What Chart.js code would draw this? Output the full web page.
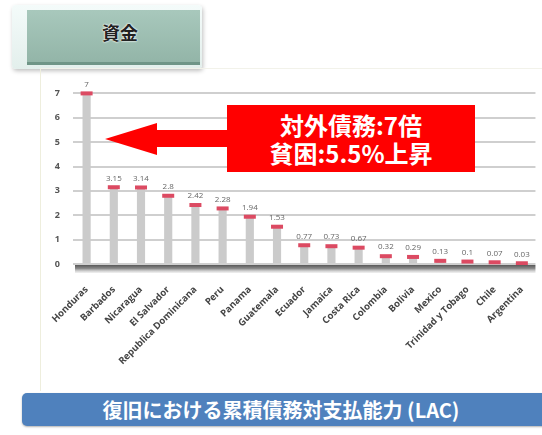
<!DOCTYPE html>
<html>
<head>
<meta charset="utf-8">
<script src="https://cdn.jsdelivr.net/npm/chart.js@4.4.1/dist/chart.umd.min.js"></script>
<style>
  body { margin: 0; width: 542px; height: 435px; background: #fff; position: relative; overflow: hidden;
         font-family: "Noto Sans CJK JP", "Noto Sans", sans-serif; }
  #frame { position: absolute; left: 40px; top: 68px; width: 502px; height: 322px;
           border-left: 1px solid #eeeedd; border-top: 1px solid #f2f2ea; }
  #wrap { position: absolute; left: 40px; top: 75px; width: 502px; height: 310px; }
  #btnOuter { position: absolute; left: 12px; top: 5px; width: 190px; height: 64px;
              background: linear-gradient(#f4fbfa, #e3efec); border-radius: 4px;
              box-shadow: 1px 2px 4px rgba(0,0,0,0.25); }
  #btnFace { position: absolute; left: 27px; top: 10px; width: 173px; height: 52px;
             background: linear-gradient(#a8c8bc, #93b5a8); border-bottom: 3px solid #6f9587; }
  #btnFace span { position: absolute; left: 93px; top: 22px; transform: translate(-50%, -50%);
                  font-size: 18px; font-weight: bold; color: #222; white-space: nowrap;
                  text-shadow: 0 0 2px #fff, 0 0 2px #fff; }
  #callout { position: absolute; left: 227px; top: 105px; width: 248px; height: 67px; background: #ff0000;
             color: #fff; font-weight: bold; font-size: 24px; line-height: 28px; text-align: center;
             display: flex; flex-direction: column; justify-content: center; }
  #arrow { position: absolute; left: 104px; top: 122px; }
  #banner { position: absolute; left: 22px; top: 393px; width: 530px; height: 33px; background: #4f81bd;
            border-radius: 5px; color: #fff; font-weight: bold; font-size: 20px; line-height: 33px;
            box-shadow: 0 1px 2px rgba(0,0,0,0.3); }
  #banner span { position: absolute; left: 0; width: 518px; text-align: center; white-space: nowrap; }
</style>
</head>
<body>
<div id="btnOuter"></div>
<div id="btnFace"><span>資金</span></div>
<div id="frame"></div>
<div id="wrap"><canvas id="chart" width="502" height="310"></canvas></div>
<svg id="arrow" width="125" height="36">
  <polygon points="1,17 53,1 53,8 125,8 125,25 53,25 53,33" fill="#ff0000"/>
</svg>
<div id="callout"><div>対外債務:7倍</div><div>貧困:5.5%上昇</div></div>
<div id="banner"><span>復旧における累積債務対支払能力 (LAC)</span></div>
<script>
const countries = ["Honduras", "Barbados", "Nicaragua", "El Salvador", "Republica Dominicana", "Peru",
  "Panama", "Guatemala", "Ecuador", "Jamaica", "Costa Rica", "Colombia", "Bolivia", "Mexico",
  "Trinidad y Tobago", "Chile", "Argentina"];
const ratios = [7, 3.15, 3.14, 2.8, 2.42, 2.28, 1.94, 1.53, 0.77, 0.73, 0.67, 0.32, 0.29, 0.13, 0.1, 0.07, 0.03];
const yTicks = [0, 1, 2, 3, 4, 5, 6, 7];

// red caps, value labels and the dark floor strip
const barDecor = {
  id: "barDecor",
  afterDatasetsDraw(chart) {
    const ctx = chart.ctx;
    const area = chart.chartArea;
    const meta = chart.getDatasetMeta(0);
    ctx.save();
    meta.data.forEach((bar, i) => {
      ctx.fillStyle = "#dc4a62";
      ctx.fillRect(bar.x - 6, bar.y - 2, 12, 4);
      ctx.fillStyle = "#666";
      ctx.font = "8px 'Open Sans', sans-serif";
      ctx.textAlign = "center";
      ctx.textBaseline = "bottom";
      ctx.fillText(String(ratios[i]), bar.x, bar.y - 5);
    });
    const g = ctx.createLinearGradient(0, area.bottom, 0, area.bottom + 9);
    g.addColorStop(0, "#4a4a4a");
    g.addColorStop(0.5, "#8a8a8a");
    g.addColorStop(1, "rgba(220,220,220,0.4)");
    ctx.fillStyle = g;
    ctx.fillRect(area.left + 2, area.bottom + 1, area.right - area.left - 2, 8);
    ctx.restore();
  }
};

new Chart(document.getElementById("chart"), {
  type: "bar",
  data: {
    labels: countries,
    datasets: [{
      data: ratios,
      backgroundColor: "#cbcbcb",
      barPercentage: 0.3,
      categoryPercentage: 1
    }]
  },
  options: {
    responsive: false,
    animation: false,
    layout: { padding: { top: 17, right: 3, left: 0, bottom: 0 } },
    plugins: { legend: { display: false }, tooltip: { enabled: false } },
    scales: {
      x: {
        grid: { display: false },
        border: { display: false },
        ticks: {
          color: "#444", font: { size: 9.5, family: "'Open Sans', sans-serif", weight: "bold" },
          minRotation: 45, maxRotation: 45, padding: 12, autoSkip: false
        },
        afterFit(scale) { scale.height = 121; }
      },
      y: {
        min: 0, max: 7,
        afterBuildTicks(scale) { scale.ticks = yTicks.map(v => ({ value: v })); },
        grid: { color: "#cfcfcf", lineWidth: 2, drawTicks: false },
        border: { display: false },
        ticks: { color: "#555", font: { size: 9, family: "'Open Sans', sans-serif", weight: "bold" }, padding: 13 },
        afterFit(scale) { scale.width = 33; }
      }
    }
  },
  plugins: [barDecor]
});
</script>
</body>
</html>
